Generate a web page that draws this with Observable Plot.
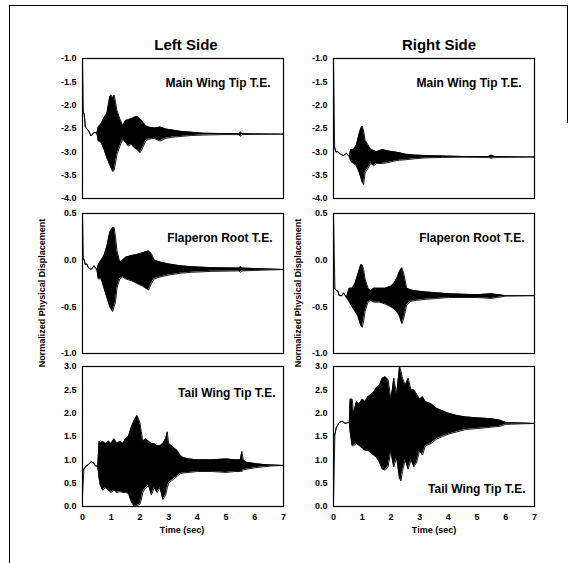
<!DOCTYPE html>
<html><head><meta charset="utf-8">
<script src="https://cdn.jsdelivr.net/npm/d3@7"></script>
<script src="https://cdn.jsdelivr.net/npm/@observablehq/plot@0.6"></script>
<style>
body{margin:0;background:#fff;font-family:"Liberation Sans",Arial,sans-serif;}
#wrap{position:relative;width:570px;height:563px;overflow:hidden;background:#fff;}
.abs{position:absolute;}
.title{font-weight:bold;font-size:15px;text-align:center;width:200px;}
.xlab{font-weight:bold;font-size:9px;text-align:center;width:120px;}
.ylab{font-weight:bold;font-size:9px;white-space:nowrap;transform:translate(-50%,-50%) rotate(-90deg);}
</style></head>
<body><div id="wrap"></div>
<script>
// ---- data ----
const xTicks = [0, 1, 2, 3, 4, 5, 6, 7];
const mainTicks = [-1.0, -1.5, -2.0, -2.5, -3.0, -3.5, -4.0];
const flapTicks = [0.5, 0.0, -0.5, -1.0];
const tailTicks = [0.0, 0.5, 1.0, 1.5, 2.0, 2.5, 3.0];
const panelLabels = ["Main Wing Tip T.E.", "Flaperon Root T.E.", "Tail Wing Tip T.E."];
const sideTitles = ["Left Side", "Right Side"];

// Left side, main wing tip
const mainL_t  = [0, 0.03, 0.06, 0.1, 0.15, 0.22, 0.3, 0.4, 0.5, 0.55, 0.65, 0.75, 0.85, 0.95, 1.0, 1.05, 1.1, 1.15, 1.2, 1.3, 1.4, 1.5, 1.6, 1.7, 1.8, 1.9, 2.0, 2.1, 2.2, 2.3, 2.5, 2.7, 2.9, 3.1, 3.4, 3.8, 4.2, 5.0, 5.45, 5.5, 5.55, 6.0, 7.0];
const mainL_hi = [-1.0, -2.15, -2.2, -2.47, -2.5, -2.56, -2.66, -2.58, -2.6, -2.46, -2.4, -2.27, -2.18, -1.82, -1.78, -1.85, -1.78, -1.93, -2.11, -2.29, -2.44, -2.33, -2.31, -2.29, -2.26, -2.24, -2.29, -2.36, -2.44, -2.47, -2.49, -2.47, -2.51, -2.53, -2.56, -2.58, -2.6, -2.61, -2.61, -2.57, -2.61, -2.615, -2.62];
const mainL_lo = [-2.15, -2.15, -2.2, -2.47, -2.5, -2.56, -2.66, -2.58, -2.6, -2.77, -2.8, -2.95, -3.13, -3.28, -3.35, -3.42, -3.4, -3.24, -3.06, -2.88, -2.73, -2.8, -2.88, -2.84, -2.91, -2.95, -3.02, -2.91, -2.77, -2.73, -2.71, -2.77, -2.71, -2.69, -2.67, -2.65, -2.64, -2.63, -2.63, -2.67, -2.63, -2.625, -2.62];

// Right side, main wing tip
const mainR_t  = [0, 0.04, 0.08, 0.15, 0.25, 0.35, 0.45, 0.55, 0.6, 0.7, 0.8, 0.9, 0.95, 1.0, 1.05, 1.1, 1.2, 1.3, 1.4, 1.5, 1.7, 1.9, 2.1, 2.3, 2.5, 2.8, 3.2, 3.8, 4.5, 5.4, 5.5, 5.6, 7.0];
const mainR_hi = [-1.0, -2.9, -3.0, -3.0, -3.05, -3.08, -3.03, -3.1, -2.95, -2.95, -2.85, -2.6, -2.5, -2.45, -2.55, -2.75, -2.85, -2.95, -2.97, -3.0, -2.95, -2.98, -3.0, -3.02, -3.05, -3.07, -3.08, -3.09, -3.1, -3.1, -3.07, -3.1, -3.11];
const mainR_lo = [-2.9, -2.9, -3.0, -3.0, -3.05, -3.08, -3.03, -3.1, -3.2, -3.25, -3.3, -3.45, -3.55, -3.65, -3.7, -3.45, -3.35, -3.25, -3.3, -3.25, -3.25, -3.23, -3.2, -3.18, -3.17, -3.15, -3.13, -3.12, -3.115, -3.12, -3.14, -3.12, -3.11];

// Left side, flaperon root
const flapL_t  = [0, 0.03, 0.06, 0.1, 0.15, 0.2, 0.3, 0.4, 0.5, 0.55, 0.65, 0.75, 0.85, 0.95, 1.05, 1.1, 1.15, 1.2, 1.3, 1.4, 1.5, 1.7, 1.9, 2.1, 2.3, 2.4, 2.5, 2.7, 3.0, 3.4, 3.8, 4.5, 5.45, 5.5, 5.55, 6.0, 7.0];
const flapL_hi = [0.5, 0.02, 0.0, -0.05, -0.04, -0.08, -0.1, -0.06, -0.1, -0.05, 0.0, 0.05, 0.15, 0.3, 0.35, 0.35, 0.25, 0.1, -0.02, 0.0, 0.03, 0.05, 0.06, 0.08, 0.1, 0.07, 0.0, -0.02, -0.04, -0.06, -0.07, -0.08, -0.085, -0.07, -0.085, -0.09, -0.1];
const flapL_lo = [0.0, 0.02, 0.0, -0.05, -0.04, -0.08, -0.1, -0.06, -0.1, -0.2, -0.2, -0.3, -0.4, -0.5, -0.55, -0.5, -0.45, -0.3, -0.2, -0.18, -0.2, -0.22, -0.25, -0.28, -0.32, -0.25, -0.2, -0.18, -0.16, -0.14, -0.13, -0.12, -0.115, -0.13, -0.115, -0.11, -0.1];

// Right side, flaperon root
const flapR_t  = [0, 0.05, 0.08, 0.15, 0.2, 0.3, 0.35, 0.45, 0.55, 0.65, 0.75, 0.85, 0.95, 1.0, 1.05, 1.1, 1.2, 1.3, 1.4, 1.6, 1.8, 2.0, 2.1, 2.2, 2.3, 2.38, 2.45, 2.55, 2.7, 2.9, 3.2, 3.6, 4.0, 5.0, 5.5, 6.0, 7.0];
const flapR_hi = [0.5, -0.3, -0.32, -0.33, -0.38, -0.38, -0.35, -0.4, -0.3, -0.3, -0.25, -0.15, -0.05, -0.05, -0.1, -0.2, -0.3, -0.33, -0.3, -0.3, -0.3, -0.28, -0.25, -0.2, -0.12, -0.08, -0.15, -0.3, -0.32, -0.33, -0.34, -0.35, -0.36, -0.37, -0.36, -0.38, -0.38];
const flapR_lo = [-0.3, -0.3, -0.32, -0.33, -0.38, -0.38, -0.35, -0.4, -0.45, -0.5, -0.55, -0.6, -0.7, -0.72, -0.65, -0.55, -0.45, -0.43, -0.45, -0.45, -0.47, -0.5, -0.52, -0.55, -0.6, -0.68, -0.62, -0.48, -0.44, -0.43, -0.42, -0.41, -0.4, -0.4, -0.41, -0.385, -0.38];

// Left side, tail wing tip
const tailL_t  = [0, 0.05, 0.1, 0.2, 0.3, 0.4, 0.45, 0.53, 0.58, 0.62, 0.7, 0.8, 0.9, 1.0, 1.1, 1.2, 1.3, 1.4, 1.5, 1.6, 1.7, 1.8, 1.9, 2.0, 2.05, 2.1, 2.2, 2.3, 2.4, 2.5, 2.6, 2.7, 2.8, 2.9, 2.95, 3.0, 3.1, 3.2, 3.3, 3.4, 3.5, 3.7, 4.0, 4.5, 5.0, 5.3, 5.5, 5.55, 5.6, 5.7, 6.0, 6.3, 6.6, 7.0];
const tailL_hi = [0.8, 0.8, 0.85, 0.9, 0.96, 0.93, 0.87, 0.86, 1.4, 1.35, 1.4, 1.35, 1.4, 1.35, 1.45, 1.35, 1.4, 1.35, 1.45, 1.5, 1.7, 1.85, 1.95, 1.8, 1.6, 1.4, 1.45, 1.4, 1.35, 1.35, 1.3, 1.3, 1.35, 1.45, 1.6, 1.35, 1.3, 1.25, 1.2, 1.1, 1.05, 1.02, 1.0, 1.0, 1.02, 1.0, 1.0, 1.18, 1.0, 0.95, 0.92, 0.9, 0.89, 0.88];
const tailL_lo = [0.25, 0.8, 0.85, 0.9, 0.96, 0.93, 0.87, 0.86, 0.6, 0.45, 0.35, 0.4, 0.35, 0.3, 0.35, 0.3, 0.32, 0.3, 0.3, 0.28, 0.1, 0.0, 0.02, 0.05, 0.15, 0.3, 0.4, 0.45, 0.25, 0.4, 0.3, 0.4, 0.15, 0.25, 0.4, 0.5, 0.55, 0.6, 0.65, 0.7, 0.72, 0.73, 0.75, 0.75, 0.73, 0.75, 0.75, 0.75, 0.78, 0.8, 0.83, 0.85, 0.87, 0.88];

// Right side, tail wing tip
const tailR_t  = [0, 0.05, 0.1, 0.2, 0.3, 0.4, 0.5, 0.55, 0.58, 0.65, 0.7, 0.8, 0.9, 1.0, 1.1, 1.2, 1.3, 1.4, 1.5, 1.6, 1.7, 1.8, 1.9, 2.0, 2.05, 2.1, 2.2, 2.3, 2.35, 2.4, 2.5, 2.6, 2.7, 2.8, 2.9, 3.0, 3.1, 3.2, 3.4, 3.6, 3.8, 4.0, 4.3, 4.6, 5.0, 5.5, 5.8, 6.0, 7.0];
const tailR_hi = [1.5, 1.55, 1.7, 1.8, 1.83, 1.78, 1.8, 1.8, 2.3, 2.3, 2.0, 2.25, 2.2, 2.3, 2.25, 2.35, 2.4, 2.45, 2.55, 2.6, 2.75, 2.78, 2.72, 2.3, 2.5, 2.75, 2.4, 3.0, 2.9, 2.75, 2.6, 2.75, 2.5, 2.5, 2.4, 2.3, 2.35, 2.25, 2.2, 2.1, 2.05, 2.0, 1.95, 1.92, 1.9, 1.88, 1.85, 1.8, 1.78];
const tailR_lo = [0.1, 1.55, 1.7, 1.8, 1.83, 1.78, 1.8, 1.8, 1.6, 1.3, 1.3, 1.35, 1.3, 1.25, 1.2, 1.2, 1.15, 1.1, 1.05, 0.95, 0.8, 0.78, 0.85, 1.2, 1.0, 0.85, 1.05, 0.6, 0.55, 0.75, 1.0, 0.8, 1.0, 0.85, 0.95, 1.2, 1.1, 1.3, 1.35, 1.45, 1.5, 1.55, 1.6, 1.65, 1.67, 1.7, 1.72, 1.76, 1.78];

// ---- layout ----
const wrap = document.getElementById("wrap");
const ML = 45, MR = 3, MT = 2, W = 201, H = 140;
const colLeft = [82, 333];
const rowTop = [58, 213, 366];

function addDiv(cls, text, style) {
  const d = document.createElement("div");
  d.className = "abs " + cls;
  d.textContent = text;
  Object.assign(d.style, style);
  wrap.appendChild(d);
  return d;
}

function panel(col, row, t, hi, lo, yDomain, yTicks, label, anchor, dx, dy) {
  const bottom = row === 2;
  const MB = bottom ? 22 : 2;
  const data = t.map((x, i) => ({t: x, hi: hi[i], lo: lo[i]}));
  const marks = [
    Plot.areaY(data, {x: "t", y1: "lo", y2: "hi", fill: "black"}),
    Plot.line(data, {x: "t", y: "hi", stroke: "black", strokeWidth: 0.9}),
    Plot.line(data, {x: "t", y: "lo", stroke: "black", strokeWidth: 0.9}),
    Plot.axisY({ticks: yTicks, tickFormat: d => d.toFixed(1), tickSize: 0, tickPadding: 6, fontWeight: "bold", fontSize: 9, label: null}),
    Plot.frame({stroke: "black", strokeWidth: 1.2}),
    Plot.text([label], {text: d => d, frameAnchor: anchor, dx, dy, textAnchor: "end", fontWeight: "bold", fontSize: 12, fill: "black", letterSpacing: "-0.45px"})
  ];
  if (bottom) {
    marks.push(Plot.axisX({ticks: xTicks, tickSize: 0, tickPadding: 7, tickFormat: d => String(d), fontWeight: "bold", fontSize: 9, label: null}));
  } else {
    marks.push(Plot.axisX({ticks: xTicks, tickSize: 0, tickFormat: () => "", label: null}));
  }
  const p = Plot.plot({
    width: ML + W + MR,
    height: MT + H + MB,
    marginLeft: ML, marginRight: MR, marginTop: MT, marginBottom: MB,
    x: {domain: [0, 7]},
    y: {domain: yDomain},
    style: {fontFamily: "'Liberation Sans', Arial, sans-serif", background: "transparent", overflow: "visible", color: "black"},
    marks
  });
  p.style.position = "absolute";
  p.style.left = (colLeft[col] - ML) + "px";
  p.style.top = (rowTop[row] - MT) + "px";
  wrap.appendChild(p);
}

// outer border
addDiv("", "", {left: "9px", top: "5px", width: "559px", height: "0px", borderTop: "1px solid #000"});
addDiv("", "", {left: "9px", top: "5px", width: "0px", height: "560px", borderLeft: "1px solid #000"});
addDiv("", "", {left: "567px", top: "5px", width: "0px", height: "118px", borderLeft: "1px solid #000"});

// titles
addDiv("title", sideTitles[0], {left: "86px", top: "36px"});
addDiv("title", sideTitles[1], {left: "339px", top: "36px"});

panel(0, 0, mainL_t, mainL_hi, mainL_lo, [-4, -1], mainTicks, panelLabels[0], "top-right", -13, 20);
panel(1, 0, mainR_t, mainR_hi, mainR_lo, [-4, -1], mainTicks, panelLabels[0], "top-right", -13, 20);
panel(0, 1, flapL_t, flapL_hi, flapL_lo, [-1, 0.5], flapTicks, panelLabels[1], "top-right", -11, 20);
panel(1, 1, flapR_t, flapR_hi, flapR_lo, [-1, 0.5], flapTicks, panelLabels[1], "top-right", -10, 20);
panel(0, 2, tailL_t, tailL_hi, tailL_lo, [0, 3], tailTicks, panelLabels[2], "top-right", -8, 22);
panel(1, 2, tailR_t, tailR_hi, tailR_lo, [0, 3], tailTicks, panelLabels[2], "bottom-right", -9, -14);

// axis titles
addDiv("ylab", "Normalized Physical Displacement", {left: "42px", top: "293px"});
addDiv("ylab", "Normalized Physical Displacement", {left: "298px", top: "293px"});
addDiv("xlab", "Time (sec)", {left: "122px", top: "525px"});
addDiv("xlab", "Time (sec)", {left: "374px", top: "525px"});
</script>
</body></html>
